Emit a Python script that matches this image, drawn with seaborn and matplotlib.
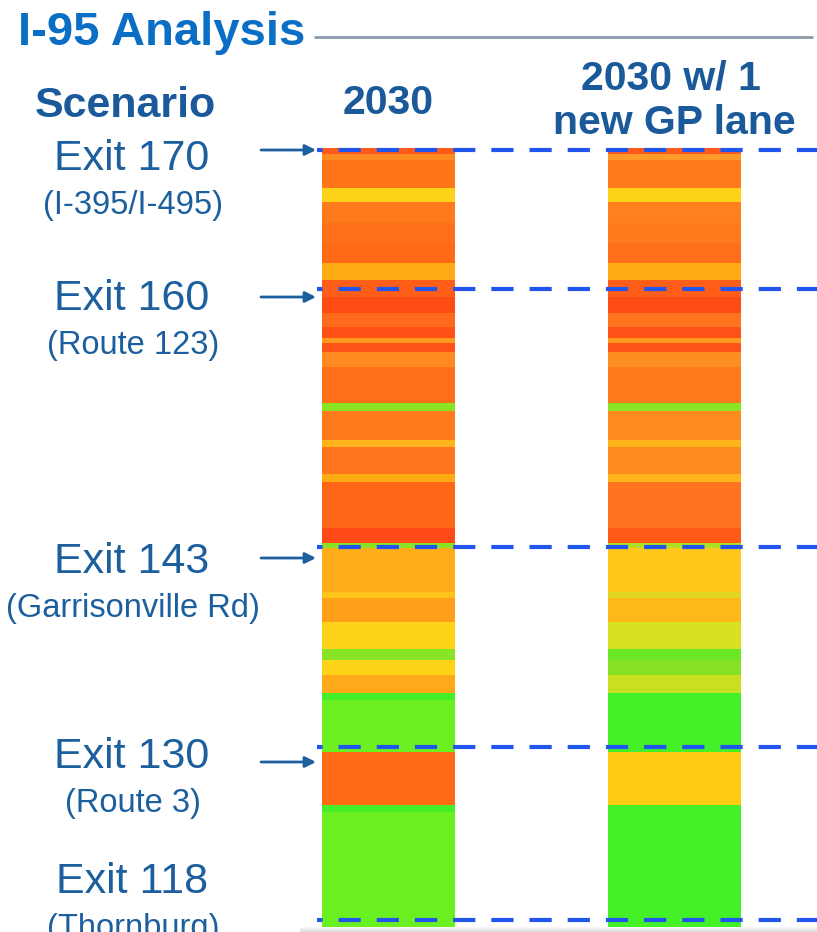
import matplotlib
matplotlib.use("Agg")
import matplotlib.pyplot as plt
import seaborn as sns
import pandas as pd

# corridor bands, listed top (Exit 170) to bottom (Exit 118)
# band edges are offsets along the corridor from the top of the chart
edges_2030 = [0, 6, 12, 40, 54, 75, 95, 115, 132, 149, 165, 179, 190, 195,
              204, 219, 255, 263, 292, 299, 326, 334, 380, 395, 400, 444,
              450, 474, 501, 512, 527, 545, 552, 604, 657, 664, 779]
colors_2030 = ["#ff5a1a", "#ff8c22", "#ff7518", "#ffd21a", "#ff7a1c", "#ff7018",
               "#ff6a16", "#ffaa14", "#ff5e18", "#ff4c14", "#ff6a1c", "#ff5016",
               "#ff9a20", "#ff5418", "#ff8a20", "#ff7018", "#8ae424", "#ff7a1c",
               "#ffb41c", "#ff761c", "#ffac14", "#ff6618", "#ff4a18", "#8ae424",
               "#ffae1a", "#ffc41c", "#ffa018", "#ffd418", "#88e424", "#ffd418",
               "#ffa81a", "#44ee28", "#6af020", "#ff6a14", "#44ee28", "#6af020"]

edges_gp = [0, 6, 12, 40, 54, 75, 95, 115, 132, 149, 165, 179, 190, 195,
            204, 219, 255, 263, 292, 299, 326, 334, 380, 395, 400, 444,
            450, 474, 501, 512, 527, 545, 604, 657, 779]
colors_gp = ["#ff5a1a", "#ff9a2a", "#ff7a1c", "#ffd21a", "#ff801e", "#ff7a1c",
             "#ff6e18", "#ffaa14", "#ff5e18", "#ff4c14", "#ff741e", "#ff5216",
             "#ff9a20", "#ff5418", "#ff8e22", "#ff7a1c", "#8ae424", "#ff8a20",
             "#ffb41c", "#ff8a20", "#ffb41c", "#ff7420", "#ff5a18", "#b0e024",
             "#ffc81a", "#e0d820", "#ffb81a", "#d8e020", "#6ae828", "#88e024",
             "#c8e020", "#44f028", "#ffcc14", "#44f028"]

scenarios = ["2030", "2030 w/ 1\nnew GP lane"]
exits = ["Exit 170", "Exit 160", "Exit 143", "Exit 130", "Exit 118"]
exit_roads = ["(I-395/I-495)", "(Route 123)", "(Garrisonville Rd)", "(Route 3)", "(Thornburg)"]
exit_offsets = [2, 141, 399, 599, 772]  # dashed marker lines along corridor
arrow_exits = ["Exit 170", "Exit 160", "Exit 143", "Exit 130"]

sns.set_theme(style="white")
plt.rcParams['font.family'] = ['Liberation Sans', 'DejaVu Sans']
plt.rcParams['lines.scale_dashes'] = False

rows = []
for name, edges, cols in [(scenarios[0], edges_2030, colors_2030),
                          (scenarios[1], edges_gp, colors_gp)]:
    for i, c in enumerate(cols):
        rows.append({"scenario": name, "start": edges[i],
                     "length": edges[i + 1] - edges[i], "color": c})
bands = pd.DataFrame(rows)

fig = plt.figure(figsize=(8.17, 9.32), dpi=100)
ax = fig.add_axes([0, 0, 1, 1])
ax.set_xlim(0, 817)
ax.set_ylim(932, 0)
ax.axis("off")

top = 148
col_x = {scenarios[0]: 388.5, scenarios[1]: 674.5}
for name, grp in bands.groupby("scenario", sort=False):
    ax.bar(col_x[name], grp["length"], bottom=top + grp["start"], width=133,
           color=grp["color"], linewidth=0, zorder=1)

dash_blue = "#2255ee"
arrow_blue = "#1c5f9e"
for ex, off in zip(exits, exit_offsets):
    y = top + off
    ax.plot([317, 817], [y, y], color=dash_blue, lw=3,
            linestyle=(12, (16, 11.5)), solid_capstyle="butt", zorder=3)

# faint shadow along the bottom edge
for i, a in enumerate([0.05, 0.1, 0.16, 0.22, 0.28]):
    ax.axhspan(927 + i, 928 + i, xmin=300 / 817, xmax=1, color="#808080",
               alpha=a, lw=0, zorder=0)

label_base = {"Exit 170": 170, "Exit 160": 310, "Exit 143": 573,
              "Exit 130": 768, "Exit 118": 893}
arrow_y = {"Exit 170": 150, "Exit 160": 297, "Exit 143": 558, "Exit 130": 762}
for ex, road in zip(exits, exit_roads):
    yb = label_base[ex]
    ax.text(132, yb, ex, ha="center", va="baseline", fontsize=31, color=arrow_blue)
    ax.text(133, yb + 44, road, ha="center", va="baseline", fontsize=23.5,
            color=arrow_blue)
    if ex in arrow_exits:
        ya = arrow_y[ex]
        ax.annotate("", xy=(316, ya), xytext=(261, ya),
                    arrowprops=dict(arrowstyle="-|>", color=arrow_blue, lw=2,
                                    mutation_scale=16, shrinkA=0, shrinkB=0))

# header
ax.text(18, 45, "I-95 Analysis", ha="left", va="baseline", fontsize=34,
        fontweight="bold", color="#0a6fc4")
ax.plot([315, 812], [37, 37], color="#8a9aaa", lw=2, zorder=2)
ax.text(125, 117, "Scenario", ha="center", va="baseline", fontsize=31,
        fontweight="bold", color="#1a5a9a")
ax.text(col_x[scenarios[0]], 114, scenarios[0], ha="center", va="baseline",
        fontsize=29.5, fontweight="bold", color="#1a5a9a")
line1, line2 = scenarios[1].split("\n")
ax.text(671, 89, line1, ha="center", va="baseline", fontsize=29.5,
        fontweight="bold", color="#1a5a9a")
ax.text(674, 134, line2, ha="center", va="baseline", fontsize=29.5,
        fontweight="bold", color="#1a5a9a")

fig.savefig("out.png", dpi=100)
